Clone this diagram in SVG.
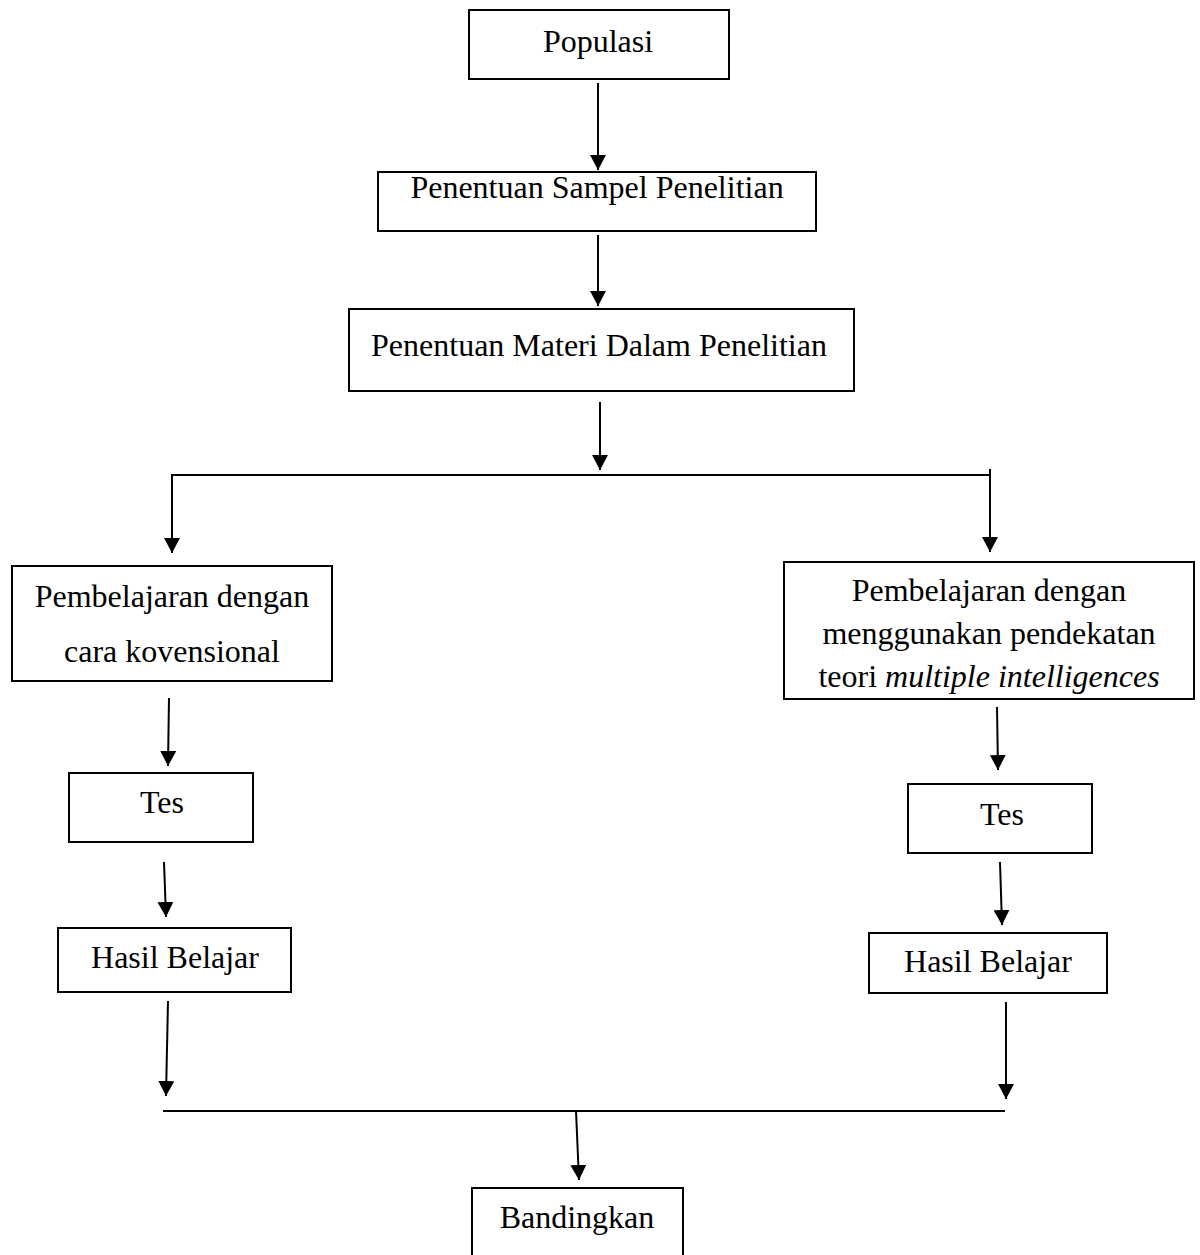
<svg xmlns="http://www.w3.org/2000/svg" width="1200" height="1255" viewBox="0 0 1200 1255">
<style>
.box{fill:#fff;stroke:#000;stroke-width:2}
.t{font-family:"Liberation Serif","Times New Roman",serif;font-size:32px;fill:#000;text-anchor:middle}
.c{fill:none;stroke:#000;stroke-width:2}
</style>
<defs>
<marker id="ah" markerUnits="userSpaceOnUse" markerWidth="16" markerHeight="16" refX="15" refY="8" orient="auto">
<path d="M0,0 L15,8 L0,16 z" fill="#000"/>
</marker>
</defs>
<rect width="1200" height="1255" fill="#fff"/>
<g id="populasi"><rect class="box" x="469" y="10" width="260" height="69"/><text class="t" x="598" y="52">Populasi</text></g>
<g id="sampel"><rect class="box" x="378" y="172" width="438" height="59"/><text class="t" x="597" y="198">Penentuan Sampel Penelitian</text></g>
<g id="materi"><rect class="box" x="349" y="309" width="505" height="82"/><text class="t" x="599" y="356">Penentuan Materi Dalam Penelitian</text></g>
<g id="konvensional"><rect class="box" x="12" y="566" width="320" height="115"/><text class="t" x="172" y="607">Pembelajaran dengan</text><text class="t" x="172" y="662">cara kovensional</text></g>
<g id="mi"><rect class="box" x="784" y="562" width="410" height="137"/><text class="t" x="989" y="601">Pembelajaran dengan</text><text class="t" x="989" y="644">menggunakan pendekatan</text><text class="t" x="989" y="687">teori <tspan font-style="italic">multiple intelligences</tspan></text></g>
<g id="tes-kiri"><rect class="box" x="69" y="773" width="184" height="69"/><text class="t" x="162" y="813">Tes</text></g>
<g id="hasil-kiri"><rect class="box" x="58" y="928" width="233" height="64"/><text class="t" x="175" y="968">Hasil Belajar</text></g>
<g id="tes-kanan"><rect class="box" x="908" y="784" width="184" height="69"/><text class="t" x="1002" y="825">Tes</text></g>
<g id="hasil-kanan"><rect class="box" x="869" y="933" width="238" height="60"/><text class="t" x="988" y="972">Hasil Belajar</text></g>
<g id="bandingkan"><rect class="box" x="472" y="1188" width="211" height="90"/><text class="t" x="577" y="1228">Bandingkan</text></g>
<g id="connectors">
<line class="c" x1="598" y1="83" x2="598" y2="170" marker-end="url(#ah)"/>
<line class="c" x1="598" y1="235" x2="598" y2="306" marker-end="url(#ah)"/>
<line class="c" x1="600" y1="402" x2="600" y2="470" marker-end="url(#ah)"/>
<polyline class="c" points="172,553 172,475 990,475"/>
<line class="c" x1="172" y1="480" x2="172" y2="553" marker-end="url(#ah)"/>
<line class="c" x1="990" y1="469" x2="990" y2="552" marker-end="url(#ah)"/>
<line class="c" x1="169" y1="698" x2="168" y2="766" marker-end="url(#ah)"/>
<line class="c" x1="164" y1="862" x2="166" y2="917" marker-end="url(#ah)"/>
<line class="c" x1="997" y1="707" x2="998" y2="770" marker-end="url(#ah)"/>
<line class="c" x1="1000" y1="862" x2="1002" y2="925" marker-end="url(#ah)"/>
<line class="c" x1="168" y1="1001" x2="166" y2="1096" marker-end="url(#ah)"/>
<line class="c" x1="1006" y1="1002" x2="1006" y2="1099" marker-end="url(#ah)"/>
<line class="c" x1="163" y1="1111" x2="1005" y2="1111"/>
<line class="c" x1="576" y1="1111" x2="579" y2="1180" marker-end="url(#ah)"/>
</g>
</svg>
